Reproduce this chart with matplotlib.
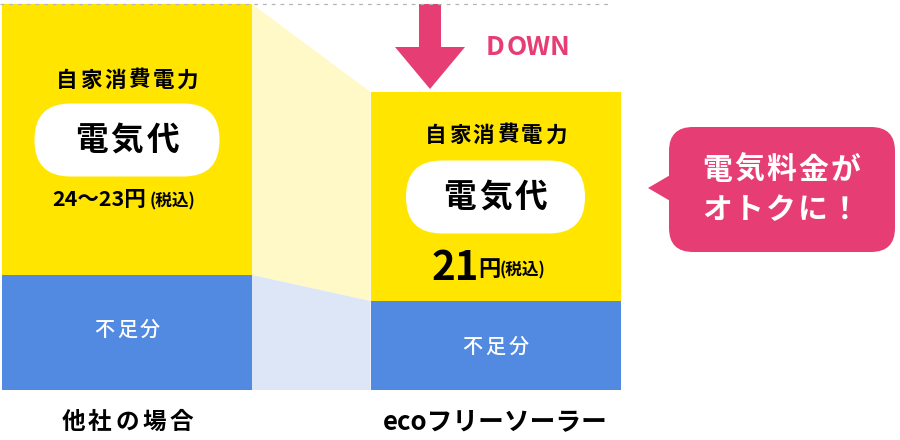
import matplotlib
matplotlib.use('Agg')
import matplotlib.pyplot as plt
from matplotlib.patches import FancyBboxPatch, Polygon, FancyArrow
import numpy as np

plt.rcParams['font.family'] = ['Noto Sans CJK JP', 'DejaVu Sans']

# data (pixel-ish units)
categories = ['他社の場合', 'ecoフリーソーラー']
shortfall = [115, 89]          # 不足分 (blue)
self_power = [271, 209]        # 自家消費電力 (yellow)
price_main = ['24〜23円', '21']
price_tax = '(税込)'

YELLOW = '#FFE500'
BLUE = '#518AE0'
LYELLOW = '#FFF9C8'
LBLUE = '#DCE6F7'
PINK = '#E63E74'

base = 50
xpos = [127, 495.5]
width = 250


def spaced(ax, cx, y, s, pitch, **kw):
    # put characters one by one to get the wide letter spacing
    n = len(s)
    for i, ch in enumerate(s):
        ax.text(cx + (i - (n - 1) / 2) * pitch, y, ch, ha='center', va='center', **kw)


fig = plt.figure(figsize=(9, 4.4), dpi=100)
ax = fig.add_axes([0, 0, 1, 1])
ax.set_xlim(0, 900)
ax.set_ylim(0, 440)
ax.axis('off')

ax.bar(xpos, shortfall, width=width, bottom=base, color=BLUE, linewidth=0)
ax.bar(xpos, self_power, width=width, bottom=base + np.array(shortfall),
       color=YELLOW, linewidth=0)

# connecting band between the bars
xl = xpos[0] + width / 2
xr = xpos[1] - width / 2
top = [base + shortfall[i] + self_power[i] for i in range(2)]
mid = [base + shortfall[i] for i in range(2)]
ax.add_patch(Polygon([(xl, top[0]), (xr, top[1]), (xr, mid[1]), (xl, mid[0])],
                     closed=True, color=LYELLOW, linewidth=0))
ax.add_patch(Polygon([(xl, mid[0]), (xr, mid[1]), (xr, base), (xl, base)],
                     closed=True, color=LBLUE, linewidth=0))

# dashed reference line at the top
ax.plot([0, 612], [top[0] + 0.5, top[0] + 0.5], ls=(0, (3, 4)), color='#b5b5b5', lw=0.9)

# arrow + DOWN
ax.add_patch(FancyArrow(430, top[0], 0, -(top[0] - top[1] - 3), width=22,
                        head_width=70, head_length=42, length_includes_head=True,
                        color=PINK, linewidth=0))
spaced(ax, 527, 393, 'DOWN', 21.5, color=PINK, fontsize=19, fontweight='bold')

# bar texts
ytxt = [[360, 300, 110], [305, 243, 93]]
for i, cx in enumerate(xpos):
    y_title, y_pill, y_short = ytxt[i]
    spaced(ax, cx, y_title, '自家消費電力', 24, fontsize=15.5, fontweight='bold')
    pw, ph = 185 if i == 0 else 179, 73
    ax.add_patch(FancyBboxPatch((cx - pw / 2, y_pill - ph / 2), pw, ph,
                                boxstyle='round,pad=0,rounding_size=36',
                                color='white', linewidth=0))
    spaced(ax, cx, y_pill, '電気代', 36, fontsize=23.5, fontweight='bold')
    spaced(ax, cx, y_short, '不足分', 23, fontsize=14.5, color='white',
           fontweight='medium')

# prices
ax.text(146, 241, price_main[0], fontsize=15.5, fontweight='bold', ha='right', va='center')
ax.text(150, 239, price_tax, fontsize=12, fontweight='bold', ha='left', va='center')
ax.text(479, 172, price_main[1], fontsize=29, fontweight='bold', ha='right', va='center',
        family=['Liberation Sans Narrow', 'Noto Sans CJK JP'])
ax.text(489, 171, '円', fontsize=16, fontweight='bold', ha='center', va='center')
ax.text(500, 170, price_tax, fontsize=12, fontweight='bold', ha='left', va='center')

# category labels
spaced(ax, xpos[0], 18, categories[0], 27, fontsize=17, fontweight='bold')
ax.text(xpos[1], 18, categories[1], fontsize=18.5, fontweight='bold',
        ha='center', va='center')

# speech bubble
ax.add_patch(FancyBboxPatch((669, 188), 226, 125,
                            boxstyle='round,pad=0,rounding_size=24',
                            color=PINK, linewidth=0))
ax.add_patch(Polygon([(648, 252), (672, 266), (672, 238)], closed=True,
                     color=PINK, linewidth=0))
spaced(ax, 781, 270, '電気料金が', 32, fontsize=21.5, fontweight='bold', color='white')
spaced(ax, 781, 230, 'オトクに！', 32, fontsize=21.5, fontweight='bold', color='white')

fig.savefig('out.png', dpi=100)
